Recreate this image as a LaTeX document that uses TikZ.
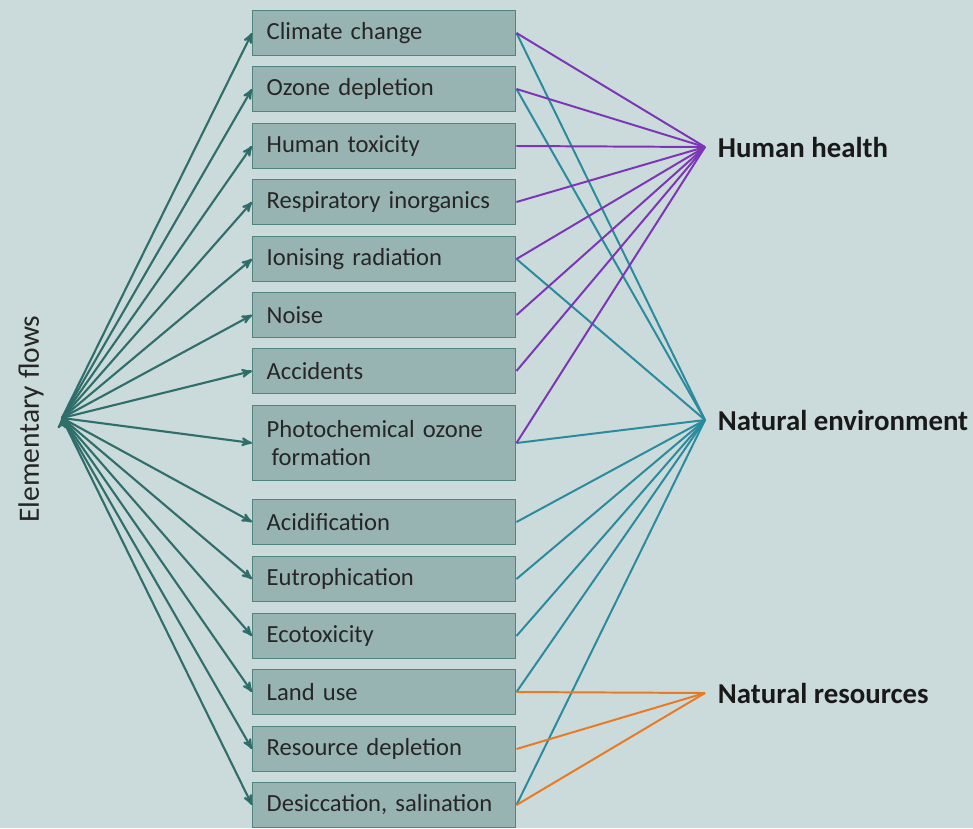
\documentclass[tikz,border=0pt]{standalone}
\usepackage{fontspec}
\setmainfont{Carlito}
\usepackage{xcolor}
\usepackage{tikz}
\usetikzlibrary{arrows}

\definecolor{bgcol}{HTML}{CBDADA}
\definecolor{boxfill}{HTML}{98B4B2}
\definecolor{boxline}{HTML}{50857F}
\definecolor{flowcol}{HTML}{2F6E6A}
\definecolor{hhcol}{HTML}{7D35B8}
\definecolor{necol}{HTML}{2A8A9E}
\definecolor{nrcol}{HTML}{E97A24}

\begin{document}
\begin{tikzpicture}[x=0.025cm,y=-0.025cm,
  font=\fontsize{17.5}{20}\selectfont, text=black!85,
  impact/.style={draw=boxline, fill=boxfill, line width=1pt,
    minimum height=1.125cm, text width=5.875cm, inner xsep=0.35cm,
    align=left, anchor=west},
  flow/.style={->,>=stealth', draw=flowcol, line width=1.5pt},
  tohh/.style={draw=hhcol, line width=1.4pt},
  tone/.style={draw=necol, line width=1.4pt},
  tonr/.style={draw=nrcol, line width=1.4pt},
  endpoint/.style={font=\fontsize{20.5}{24}\selectfont\bfseries, text=black!90, anchor=west}]

\fill[bgcol] (0,0) rectangle (973,828);

\coordinate (ef) at (62,418);
\node[rotate=90, font=\fontsize{21}{24}\selectfont] (eflab) at (31,419) {Elementary flows};

\node[impact] (cc)  at (252,33)  {Climate change};
\node[impact] (od)  at (252,89)  {Ozone depletion};
\node[impact] (ht)  at (252,146) {Human toxicity};
\node[impact] (ri)  at (252,202) {Respiratory inorganics};
\node[impact] (ir)  at (252,259) {Ionising radiation};
\node[impact] (no)  at (252,315) {Noise};
\node[impact] (ac)  at (252,371) {Accidents};
\node[impact, minimum height=1.875cm] (po) at (252,443) {Photochemical ozone\\\hspace{0.2em}formation};
\node[impact] (ad)  at (252,522) {Acidification};
\node[impact] (eu)  at (252,579) {Eutrophication};
\node[impact] (et)  at (252,636) {Ecotoxicity};
\node[impact] (lu)  at (252,692) {Land use};
\node[impact] (rd)  at (252,749) {Resource depletion};
\node[impact] (ds)  at (252,805) {Desiccation, salination};

\coordinate (hh) at (705,147);
\coordinate (ne) at (705,420);
\coordinate (nr) at (705,693);
\node[endpoint] (hhlab) at (713,147) {Human health};
\node[endpoint] (nelab) at (713,420) {Natural environment};
\node[endpoint] (nrlab) at (713,693) {Natural resources};

% elementary flows into the impact categories
\path[flow]
  (ef) edge (cc.west)
  (ef) edge (od.west)
  (ef) edge (ht.west)
  (ef) edge (ri.west)
  (ef) edge (ir.west)
  (ef) edge (no.west)
  (ef) edge (ac.west)
  (ef) edge (po.west)
  (ef) edge (ad.west)
  (ef) edge (eu.west)
  (ef) edge (et.west)
  (ef) edge (lu.west)
  (ef) edge (rd.west)
  (ef) edge (ds.west);

% natural environment
\path[tone]
  (cc.east) edge (ne)
  (od.east) edge (ne)
  (ir.east) edge (ne)
  (po.east) edge (ne)
  (ad.east) edge (ne)
  (eu.east) edge (ne)
  (et.east) edge (ne)
  (lu.east) edge (ne)
  (ds.east) edge (ne);

% human health
\path[tohh]
  (cc.east) edge (hh)
  (od.east) edge (hh)
  (ht.east) edge (hh)
  (ri.east) edge (hh)
  (ir.east) edge (hh)
  (no.east) edge (hh)
  (ac.east) edge (hh)
  (po.east) edge (hh);

% natural resources
\path[tonr]
  (lu.east) edge (nr)
  (rd.east) edge (nr)
  (ds.east) edge (nr);

\end{tikzpicture}
\end{document}
